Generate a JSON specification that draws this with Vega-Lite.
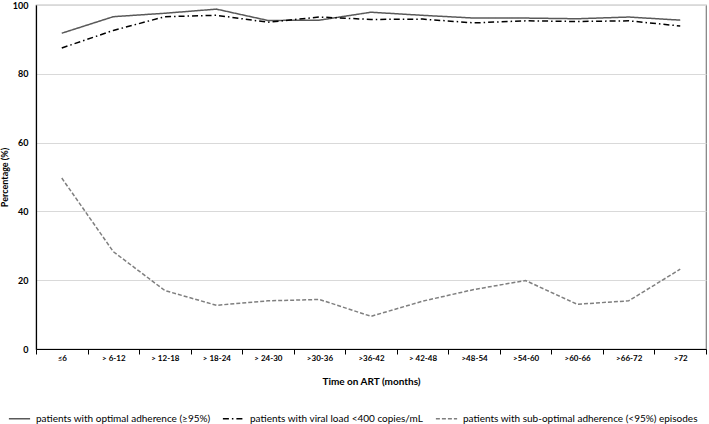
{
  "$schema": "https://vega.github.io/schema/vega-lite/v6.json",
  "width": 670,
  "height": 344,
  "autosize": {"type": "none"},
  "padding": {"left": 36, "top": 5, "right": 3, "bottom": 75},
  "config": {
    "font": "Lato",
    "view": {"stroke": "#7f7f7f", "strokeWidth": 1.2},
    "axis": {"labelColor": "#000000", "titleColor": "#000000"}
  },
  "data": {
    "values": [
      {"period": "≤6", "series": "patients with optimal adherence (≥95%)", "value": 91.8},
      {"period": "> 6-12", "series": "patients with optimal adherence (≥95%)", "value": 96.6},
      {"period": "> 12-18", "series": "patients with optimal adherence (≥95%)", "value": 97.6},
      {"period": "> 18-24", "series": "patients with optimal adherence (≥95%)", "value": 98.8},
      {"period": "> 24-30", "series": "patients with optimal adherence (≥95%)", "value": 95.5},
      {"period": ">30-36", "series": "patients with optimal adherence (≥95%)", "value": 95.6},
      {"period": ">36-42", "series": "patients with optimal adherence (≥95%)", "value": 97.9},
      {"period": "> 42-48", "series": "patients with optimal adherence (≥95%)", "value": 97.0},
      {"period": ">48-54", "series": "patients with optimal adherence (≥95%)", "value": 96.2},
      {"period": ">54-60", "series": "patients with optimal adherence (≥95%)", "value": 96.2},
      {"period": ">60-66", "series": "patients with optimal adherence (≥95%)", "value": 96.0},
      {"period": ">66-72", "series": "patients with optimal adherence (≥95%)", "value": 96.5},
      {"period": ">72", "series": "patients with optimal adherence (≥95%)", "value": 95.6},
      {"period": "≤6", "series": "patients with viral load <400 copies/mL", "value": 87.5},
      {"period": "> 6-12", "series": "patients with viral load <400 copies/mL", "value": 92.6},
      {"period": "> 12-18", "series": "patients with viral load <400 copies/mL", "value": 96.6},
      {"period": "> 18-24", "series": "patients with viral load <400 copies/mL", "value": 97.0},
      {"period": "> 24-30", "series": "patients with viral load <400 copies/mL", "value": 95.0},
      {"period": ">30-36", "series": "patients with viral load <400 copies/mL", "value": 96.5},
      {"period": ">36-42", "series": "patients with viral load <400 copies/mL", "value": 95.8},
      {"period": "> 42-48", "series": "patients with viral load <400 copies/mL", "value": 95.9},
      {"period": ">48-54", "series": "patients with viral load <400 copies/mL", "value": 94.8},
      {"period": ">54-60", "series": "patients with viral load <400 copies/mL", "value": 95.4},
      {"period": ">60-66", "series": "patients with viral load <400 copies/mL", "value": 95.2},
      {"period": ">66-72", "series": "patients with viral load <400 copies/mL", "value": 95.4},
      {"period": ">72", "series": "patients with viral load <400 copies/mL", "value": 93.9},
      {"period": "≤6", "series": "patients with sub-optimal adherence (<95%) episodes", "value": 49.7},
      {"period": "> 6-12", "series": "patients with sub-optimal adherence (<95%) episodes", "value": 28.3},
      {"period": "> 12-18", "series": "patients with sub-optimal adherence (<95%) episodes", "value": 17.0},
      {"period": "> 18-24", "series": "patients with sub-optimal adherence (<95%) episodes", "value": 12.7},
      {"period": "> 24-30", "series": "patients with sub-optimal adherence (<95%) episodes", "value": 14.0},
      {"period": ">30-36", "series": "patients with sub-optimal adherence (<95%) episodes", "value": 14.4},
      {"period": ">36-42", "series": "patients with sub-optimal adherence (<95%) episodes", "value": 9.5},
      {"period": "> 42-48", "series": "patients with sub-optimal adherence (<95%) episodes", "value": 13.9},
      {"period": ">48-54", "series": "patients with sub-optimal adherence (<95%) episodes", "value": 17.3},
      {"period": ">54-60", "series": "patients with sub-optimal adherence (<95%) episodes", "value": 19.9},
      {"period": ">60-66", "series": "patients with sub-optimal adherence (<95%) episodes", "value": 13.0},
      {"period": ">66-72", "series": "patients with sub-optimal adherence (<95%) episodes", "value": 14.0},
      {"period": ">72", "series": "patients with sub-optimal adherence (<95%) episodes", "value": 23.2}
    ]
  },
  "mark": {"type": "line", "strokeWidth": 1.5},
  "encoding": {
    "x": {
      "field": "period",
      "type": "nominal",
      "sort": null,
      "scale": {"paddingInner": 0, "paddingOuter": 0},
      "axis": {
        "title": "Time on ART (months)",
        "titleFontSize": 10,
        "titleFontWeight": "bold",
        "titlePadding": 14,
        "labelAngle": 0,
        "labelFontSize": 8,
        "labelFontWeight": "bold",
        "labelPadding": 0,
        "tickBand": "extent",
        "tickSize": 5,
        "tickColor": "#000000",
        "domainColor": "#000000",
        "domainWidth": 1.2,
        "grid": false
      }
    },
    "y": {
      "field": "value",
      "type": "quantitative",
      "scale": {"domain": [0, 100]},
      "axis": {
        "title": "Percentage (%)",
        "titleFontSize": 9,
        "titleFontWeight": "bold",
        "titlePadding": 3,
        "values": [0, 20, 40, 60, 80, 100],
        "labelFontSize": 9,
        "labelFontWeight": "bold",
        "labelPadding": 8,
        "ticks": false,
        "domainColor": "#000000",
        "domainWidth": 1.2,
        "gridColor": "#d9d9d9",
        "gridWidth": 1
      }
    },
    "color": {
      "field": "series",
      "type": "nominal",
      "scale": {
        "domain": [
          "patients with optimal adherence (≥95%)",
          "patients with viral load <400 copies/mL",
          "patients with sub-optimal adherence (<95%) episodes"
        ],
        "range": ["#595959", "#000000", "#7f7f7f"]
      },
      "legend": {
        "title": null,
        "orient": "none",
        "legendX": -28,
        "legendY": 402,
        "direction": "horizontal",
        "symbolType": "stroke",
        "symbolSize": 450,
        "symbolStrokeWidth": 1.5,
        "labelFontSize": 10,
        "labelColor": "#000000",
        "labelOffset": 5,
        "columnPadding": 8,
        "labelLimit": 300
      }
    },
    "strokeDash": {
      "field": "series",
      "type": "nominal",
      "scale": {
        "domain": [
          "patients with optimal adherence (≥95%)",
          "patients with viral load <400 copies/mL",
          "patients with sub-optimal adherence (<95%) episodes"
        ],
        "range": [[1, 0], [6, 3, 1.5, 3], [4, 2]]
      },
      "legend": null
    }
  }
}
